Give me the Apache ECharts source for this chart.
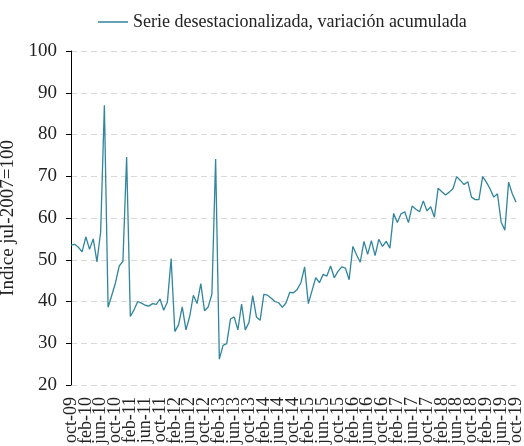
<!DOCTYPE html>
<html>
<head>
<meta charset="utf-8">
<script src="https://cdn.jsdelivr.net/npm/echarts@6/dist/echarts.min.js"></script>
<style>
  html, body { margin: 0; padding: 0; background: #ffffff; }
  #chart { width: 524px; height: 446px; }
</style>
</head>
<body>
<div id="chart"></div>
<script>
const monthNames = ['ene', 'feb', 'mar', 'abr', 'may', 'jun', 'jul', 'ago', 'sep', 'oct', 'nov', 'dic']

// oct-09 .. oct-19, monthly
const months = []
for (let y = 2009; y <= 2019; y++) {
  for (let m = 0; m < 12; m++) {
    if (y === 2009 && m < 9) continue
    if (y === 2019 && m > 9) continue
    months.push(monthNames[m] + '-' + String(y).slice(2))
  }
}

const seriesName = 'Serie desestacionalizada, variación acumulada'
const values = [
  53.5, 53.7, 53.0, 51.9, 55.5, 52.5, 55.0, 49.5, 56.7, 87.0,
  38.6, 41.5, 44.5, 48.5, 49.6, 74.6, 36.4, 38.0, 40.0, 39.6,
  39.1, 38.9, 39.5, 39.3, 40.6, 37.9, 39.9, 50.3, 32.8, 34.4,
  38.7, 33.2, 36.4, 41.5, 39.5, 44.3, 37.8, 38.7, 41.8, 74.1,
  26.2, 29.5, 29.9, 35.8, 36.3, 33.2, 39.4, 33.2, 35.0, 41.4,
  36.3, 35.5, 41.7, 41.5, 40.8, 40.0, 39.7, 38.6, 39.7, 42.2,
  42.1, 42.9, 44.5, 48.3, 39.5, 42.6, 45.7, 44.5, 46.5, 46.1,
  48.5, 45.7, 47.2, 48.3, 48.0, 45.2, 53.2, 51.2, 49.4, 54.4,
  51.3, 54.6, 51.0, 54.9, 53.2, 54.4, 52.8, 61.1, 58.9, 61.0,
  61.5, 58.9, 62.9, 62.1, 61.5, 64.1, 61.7, 62.7, 60.2, 67.1,
  66.3, 65.5, 66.2, 67.0, 69.9, 69.0, 68.0, 68.7, 65.0, 64.4,
  64.4, 69.9, 68.6, 67.0, 65.0, 65.8, 59.0, 57.1, 68.6, 65.8,
  63.8
]

const yAxisTitle = 'Índice jul-2007=100'
const serif = '"Liberation Serif", "DejaVu Serif", serif'
const lineColor = '#31859c'
const labelEvery = 4

const chart = echarts.init(document.getElementById('chart'))

chart.setOption({
  animation: false,
  textStyle: { fontFamily: serif },
  legend: {
    data: [seriesName],
    left: 93,
    top: 8,
    icon: 'rect',
    itemWidth: 30,
    itemHeight: 1.5,
    itemGap: 5,
    textStyle: { fontFamily: serif, fontSize: 18, color: '#222222' },
  },
  grid: {
    left: 71,
    right: 8,
    top: 51,
    bottom: 61,
    outerBoundsMode: 'none',
  },
  xAxis: {
    type: 'category',
    data: months,
    boundaryGap: false,
    axisLine: { show: false },
    axisTick: { show: false },
    splitLine: { show: false },
    axisLabel: {
      // interval 0 keeps every label, the formatter blanks the in-between months
      interval: 0,
      hideOverlap: false,
      rotate: 90,
      margin: 12,
      fontFamily: serif,
      fontSize: 18,
      color: '#222222',
      formatter: (value, index) => (index % labelEvery === 0 ? value : ''),
    },
  },
  yAxis: {
    type: 'value',
    min: 20,
    max: 100,
    interval: 10,
    name: yAxisTitle,
    nameLocation: 'middle',
    nameGap: 44,
    nameTextStyle: { fontFamily: serif, fontSize: 19, color: '#222222' },
    axisLine: { show: true, lineStyle: { color: '#000000', width: 1 } },
    axisTick: { show: true, length: 5, lineStyle: { color: '#000000' } },
    axisLabel: {
      margin: 14,
      fontFamily: serif,
      fontSize: 19,
      color: '#222222',
    },
    splitLine: {
      lineStyle: { color: '#d9d9d9', type: [6, 4], width: 1 },
    },
  },
  series: [
    {
      name: seriesName,
      type: 'line',
      data: values,
      symbol: 'none',
      lineStyle: { color: lineColor, width: 1.3 },
      itemStyle: { color: lineColor },
    },
  ],
})
</script>
</body>
</html>
